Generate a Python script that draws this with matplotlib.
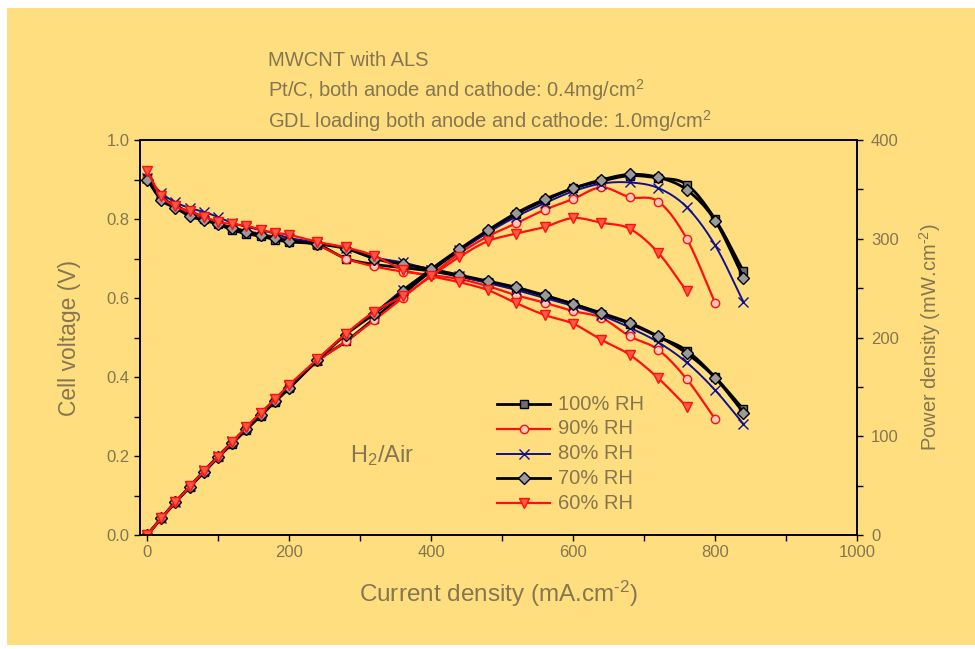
import numpy as np
import matplotlib.pyplot as plt
from matplotlib.lines import Line2D
from matplotlib.patches import Rectangle

plt.rcParams['font.family'] = ['Liberation Sans', 'DejaVu Sans']
plt.rcParams['mathtext.fontset'] = 'custom'
plt.rcParams['mathtext.rm'] = 'Liberation Sans'
plt.rcParams['mathtext.it'] = 'Liberation Sans'

# current density (mA/cm2)
current = [0, 20, 40, 60, 80, 100, 120, 140, 160, 180, 200, 240, 280, 320, 360,
           400, 440, 480, 520, 560, 600, 640, 680, 720, 760, 800, 840]

# cell voltage (V)
v_100 = [0.905, 0.855, 0.835, 0.815, 0.800, 0.787, 0.772, 0.763, 0.756, 0.748, 0.742, 0.735, 0.700, 0.685,
         0.677, 0.668, 0.655, 0.640, 0.625, 0.605, 0.585, 0.560, 0.535, 0.502, 0.467, 0.400, 0.318]
v_90 = [0.905, 0.855, 0.832, 0.815, 0.800, 0.788, 0.778, 0.770, 0.762, 0.755, 0.748, 0.733, 0.700, 0.680,
        0.667, 0.658, 0.648, 0.630, 0.607, 0.588, 0.567, 0.550, 0.503, 0.469, 0.395, 0.294]
v_80 = [0.905, 0.866, 0.842, 0.828, 0.818, 0.805, 0.790, 0.780, 0.772, 0.763, 0.752, 0.740, 0.727, 0.703,
        0.690, 0.672, 0.655, 0.638, 0.620, 0.600, 0.580, 0.556, 0.525, 0.488, 0.437, 0.367, 0.281]
v_70 = [0.900, 0.848, 0.828, 0.807, 0.797, 0.787, 0.778, 0.768, 0.760, 0.752, 0.745, 0.737, 0.725, 0.700,
        0.685, 0.673, 0.658, 0.643, 0.627, 0.607, 0.585, 0.562, 0.537, 0.503, 0.460, 0.398, 0.310]
v_60 = [0.922, 0.858, 0.832, 0.820, 0.806, 0.793, 0.787, 0.783, 0.773, 0.765, 0.760, 0.742, 0.728, 0.707,
        0.672, 0.655, 0.640, 0.620, 0.587, 0.557, 0.535, 0.494, 0.456, 0.397, 0.325]

labels = ['100% RH', '90% RH', '80% RH', '70% RH', '60% RH']
voltages = [v_100, v_90, v_80, v_70, v_60]

txt = '#857650'
bg = '#FFDE80'


def smooth(x, y, n=12):
    # catmull-rom curve through the points, for drawing only
    p = np.column_stack([x, y]).astype(float)
    p = np.vstack([2 * p[0] - p[1], p, 2 * p[-1] - p[-2]])
    t = np.linspace(0, 1, n, endpoint=False)[:, None]
    out = []
    for i in range(1, len(p) - 2):
        p0, p1, p2, p3 = p[i - 1], p[i], p[i + 1], p[i + 2]
        seg = 0.5 * (2 * p1 + (-p0 + p2) * t + (2 * p0 - 5 * p1 + 4 * p2 - p3) * t ** 2
                     + (-p0 + 3 * p1 - 3 * p2 + p3) * t ** 3)
        out.append(seg)
    out.append(p[-2][None])
    s = np.vstack(out)
    return s[:, 0], s[:, 1]


styles = [
    dict(color='black', marker='s', mfc='#6E6E6E', mec='black', lw=2.0, ms=6),
    dict(color='#FF1010', marker='o', mfc='#FFC8B8', mec='#FF1010', lw=1.6, ms=6),
    dict(color='#101090', marker='x', mfc='none', mec='#101090', lw=1.4, ms=7),
    dict(color='black', marker='D', mfc='#9A9A9A', mec='black', lw=2.0, ms=6),
    dict(color='#FF1010', marker='v', mfc='#FF5A40', mec='#FF1010', lw=1.6, ms=7),
]

fig = plt.figure(figsize=(9.75, 6.49), dpi=100)
fig.patches.append(Rectangle((7 / 975, 4 / 649), 1, 637 / 649, transform=fig.transFigure,
                             facecolor=bg, edgecolor='none', zorder=-10))

ax = fig.add_axes([140 / 975, 114 / 649, 717 / 975, 395 / 649])
ax.set_facecolor('none')
ax2 = ax.twinx()

for lab, v, st in zip(labels, voltages, styles):
    i = np.array(current[:len(v)], dtype=float)
    v = np.array(v)
    p = i * v  # power density mW/cm2
    sx, sy = smooth(i, v)
    ax.plot(sx, sy, color=st['color'], lw=st['lw'])
    ax.plot(i, v, ls='none', marker=st['marker'], mfc=st['mfc'], mec=st['mec'], ms=st['ms'], mew=1.0)
    sx, sy = smooth(i, p)
    ax2.plot(sx, sy, color=st['color'], lw=st['lw'])
    ax2.plot(i, p, ls='none', marker=st['marker'], mfc=st['mfc'], mec=st['mec'], ms=st['ms'], mew=1.0)

ax.set_xlim(-10, 1000)
ax.set_ylim(0, 1.0)
ax2.set_ylim(0, 400)
ax.set_xticks([0, 200, 400, 600, 800, 1000])
ax.set_xticks(range(0, 1001, 100), minor=True)
ax.set_yticks(np.arange(0, 1.01, 0.2))
ax.set_yticks(np.arange(0, 1.01, 0.1), minor=True)
ax.set_yticklabels(['%.1f' % t for t in np.arange(0, 1.01, 0.2)])
ax2.set_yticks(range(0, 401, 100))
ax2.set_yticks(range(0, 401, 50), minor=True)

for a in (ax, ax2):
    a.tick_params(which='both', direction='out', length=4, width=1, colors='black',
                  labelcolor=txt, labelsize=12)
    for s in a.spines.values():
        s.set_color('black')
        s.set_linewidth(1.2)
ax2.tick_params(axis='y', pad=6)

ax.set_xlabel(r'Current density (mA.cm$^{\text{-2}}$)', fontsize=17.5, color=txt, labelpad=13)
ax.set_ylabel('Cell voltage (V)', fontsize=16.5, color=txt, labelpad=18)
ax2.set_ylabel(r'Power density (mW.cm$^{\text{-2}}$)', fontsize=14.5, color=txt, labelpad=13)

fig.text(268 / 975, 1 - 60 / 649, 'MWCNT with ALS', fontsize=14.5, color=txt, va='center')
fig.text(268 / 975, 1 - 90 / 649, r'Pt/C, both anode and cathode: 0.4mg/cm$^{2}$',
         fontsize=14.5, color=txt, va='center')
fig.text(268 / 975, 1 - 121 / 649, r'GDL loading both anode and cathode: 1.0mg/cm$^{2}$',
         fontsize=14.5, color=txt, va='center')
ax.text(286, 0.2, r'H$_2$/Air', fontsize=17, color=txt, va='center')

# legend drawn by hand, in figure pixels
for k, (lab, st) in enumerate(zip(labels, styles)):
    yy = 1 - (404 + 24.8 * k) / 649
    fig.add_artist(Line2D([497 / 975, 523.5 / 975, 550 / 975], [yy, yy, yy], transform=fig.transFigure,
                          color=st['color'], lw=st['lw'], marker=st['marker'], markevery=[1],
                          mfc=st['mfc'], mec=st['mec'], ms=st['ms'], mew=1.0))
    fig.text(558 / 975, yy, lab, fontsize=14.5, color=txt, va='center')

fig.savefig('out.png', dpi=100, facecolor='white')
